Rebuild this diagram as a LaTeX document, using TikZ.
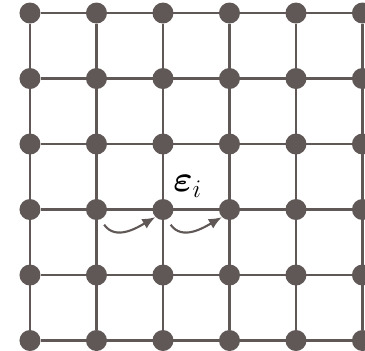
\documentclass[tikz,border=0pt]{standalone}
\usepackage{amsmath}
\usetikzlibrary{positioning,arrows.meta}

\definecolor{latgray}{RGB}{96,88,87}

\begin{document}
\begin{tikzpicture}[
  x=1.33cm, y=1.31cm,
  site/.style={circle, fill=latgray, inner sep=0pt, minimum size=4.2mm},
  bond/.style={draw=latgray, line width=1.4pt},
  hop/.style={-{Latex[length=2.6mm,width=2.2mm]}, draw=latgray, line width=1.2pt}
]
\useasboundingbox (-0.451,-0.153) rectangle (5.038,5.199);
\foreach \i in {0,...,5}
  \foreach \j in {0,...,5}
    \node[site] (n-\i-\j) at (\i,\j) {};
\foreach \k in {0,...,5} {
  \draw[bond] (n-0-\k) -- (n-5-\k);
  \draw[bond] (n-\k-0) -- (n-\k-5);
}
\node[fill=white, inner sep=2pt, font=\huge] (eps) at (2.37,2.35) {$\boldsymbol{\varepsilon}_i$};
\draw[hop] ([yshift=-1.5mm]n-1-2.south east) to[out=-55,in=210] (n-2-2.south west);
\draw[hop] ([yshift=-1.5mm]n-2-2.south east) to[out=-55,in=210] (n-3-2.south west);
\end{tikzpicture}
\end{document}
